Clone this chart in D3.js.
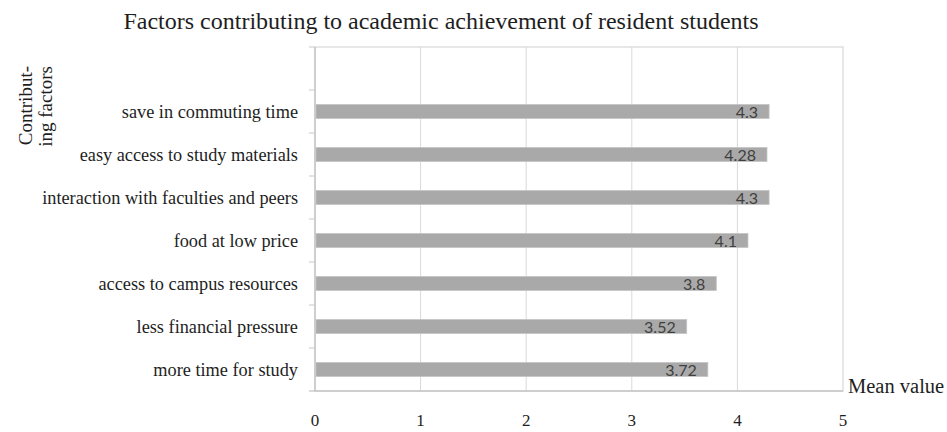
<!DOCTYPE html>
<html>
<head>
<meta charset="utf-8">
<script src="https://cdn.jsdelivr.net/npm/d3@7"></script>
<style>
  html, body { margin: 0; padding: 0; background: #fff; }
  svg { display: block; }
</style>
</head>
<body>
<svg id="chart" width="947" height="432"></svg>
<script>
// data, top to bottom as drawn
const factors = [
  "save in commuting time",
  "easy access to study materials",
  "interaction with faculties and peers",
  "food at low price",
  "access to campus resources",
  "less financial pressure",
  "more time for study"
];
const meanValues = [4.3, 4.28, 4.3, 4.1, 3.8, 3.52, 3.72];
const xTicks = [0, 1, 2, 3, 4, 5];

const svg = d3.select("#chart");
const plotLeft = 315, plotRight = 843, plotTop = 47, plotBottom = 391;
const serif = "'Liberation Serif', 'Times New Roman', serif";
const textColor = "#1e1e1e";

const x = d3.scaleLinear().domain([0, 5]).range([plotLeft, plotRight]);
// Excel leaves an empty slot above the first category
const y = d3.scaleBand().domain(["_blank"].concat(factors)).range([plotTop, plotBottom]);

// title
svg.append("text")
  .attr("x", 441).attr("y", 29)
  .attr("text-anchor", "middle")
  .attr("font-family", serif).attr("font-size", 24)
  .attr("fill", textColor)
  .text("Factors contributing to academic achievement of resident students");

// plot box + gridlines
svg.append("rect")
  .attr("x", plotLeft).attr("y", plotTop)
  .attr("width", plotRight - plotLeft).attr("height", plotBottom - plotTop)
  .attr("fill", "none").attr("stroke", "#d0d0d0");

svg.append("g")
  .selectAll("line")
  .data(xTicks.slice(1, -1))
  .enter()
  .append("line")
  .attr("x1", (d) => x(d)).attr("x2", (d) => x(d))
  .attr("y1", plotTop).attr("y2", plotBottom)
  .attr("stroke", "#d9d9d9");

// left axis with outside ticks at band edges
const yAxis = svg.append("g");
yAxis.append("line")
  .attr("x1", plotLeft).attr("x2", plotLeft).attr("y1", plotTop).attr("y2", plotBottom)
  .attr("stroke", "#b5b5b5");
yAxis.selectAll(".tk")
  .data(y.domain())
  .enter()
  .append("line")
  .attr("x1", plotLeft - 6).attr("x2", plotLeft)
  .attr("y1", (d) => y(d)).attr("y2", (d) => y(d))
  .attr("stroke", "#c8c8c8");

// bottom axis
svg.append("line")
  .attr("x1", plotLeft - 6).attr("x2", plotRight)
  .attr("y1", plotBottom).attr("y2", plotBottom)
  .attr("stroke", "#b5b5b5");

svg.append("g")
  .selectAll("text")
  .data(xTicks)
  .enter()
  .append("text")
  .attr("x", (d) => x(d)).attr("y", 426)
  .attr("text-anchor", "middle")
  .attr("font-family", serif).attr("font-size", 17)
  .attr("fill", textColor)
  .text((d) => d);

// bars
const barH = 14;
svg.append("g")
  .selectAll("rect")
  .data(factors)
  .enter()
  .append("rect")
  .attr("x", x(0) + 1)
  .attr("y", (d) => y(d) + y.bandwidth() / 2 - barH / 2)
  .attr("width", (d, i) => x(meanValues[i]) - x(0) - 1)
  .attr("height", barH)
  .attr("fill", "#a9a9a9")
  .attr("stroke", "#c4c4c4")
  .attr("stroke-width", 0.8);

// value labels inside bar end
svg.append("g")
  .selectAll("text")
  .data(factors)
  .enter()
  .append("text")
  .attr("x", (d, i) => x(meanValues[i]) - 11)
  .attr("y", (d) => y(d) + y.bandwidth() / 2 + 6.5)
  .attr("text-anchor", "end")
  .attr("font-family", "Lato, 'Open Sans', sans-serif")
  .attr("font-size", 16)
  .attr("fill", "#404040")
  .text((d, i) => meanValues[i]);

// category labels
svg.append("g")
  .selectAll("text")
  .data(factors)
  .enter()
  .append("text")
  .attr("x", 298)
  .attr("y", (d) => y(d) + y.bandwidth() / 2 + 6)
  .attr("text-anchor", "end")
  .attr("font-family", serif).attr("font-size", 18.3)
  .attr("fill", textColor)
  .text((d) => d);

// axis titles
const yTitle = svg.append("text")
  .attr("transform", "translate(32,66) rotate(-90)")
  .attr("text-anchor", "end")
  .attr("font-family", serif).attr("font-size", 19)
  .attr("fill", textColor);
yTitle.append("tspan").attr("x", 0).attr("y", 0).text("Contribut-");
yTitle.append("tspan").attr("x", 0).attr("y", 20).text("ing factors");

svg.append("text")
  .attr("x", 848).attr("y", 393)
  .attr("font-family", serif).attr("font-size", 20.5)
  .attr("fill", textColor)
  .text("Mean value");
</script>
</body>
</html>
